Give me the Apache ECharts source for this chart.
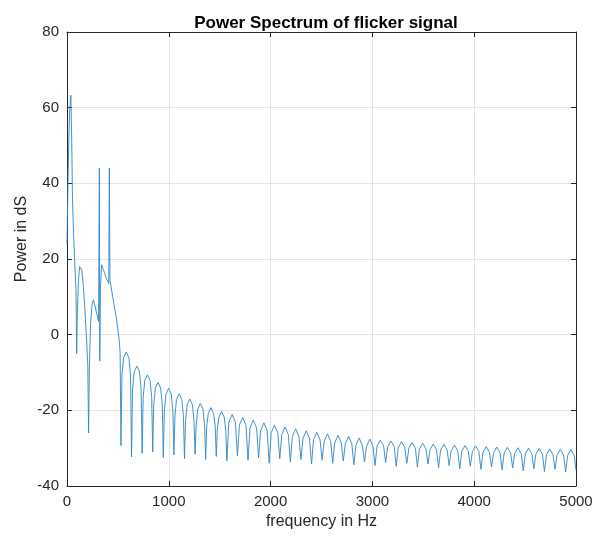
<!DOCTYPE html>
<html>
<head>
<meta charset="utf-8">
<script src="https://cdn.jsdelivr.net/npm/echarts@6/dist/echarts.min.js"></script>
<style>
html,body{margin:0;padding:0;background:#ffffff;}
#chart{width:597px;height:539px;}
</style>
</head>
<body>
<div id="chart"></div>
<script>
// ---- data ----
const chartTitle = 'Power Spectrum of flicker signal';
const xAxisTitle = 'frequency in Hz';
const yAxisTitle = 'Power in dS';
const xTicks = [0, 1000, 2000, 3000, 4000, 5000];
const yTicks = [-40, -20, 0, 20, 40, 60, 80];

// main lobe, first side lobes and the two spikes
const spectrumLow = [
  [0,24],[8,38],[18,52],[28,60],[38,63.3],[46,52],[54,36],[64,27],[76,19],[88,12],
  [95,-5],[102,6],[112,14],[124,18],[134,18.5],[146,17],[160,13],[175,7],[190,0],[204,-8],
  [212,-26],[220,-8],[232,3],[246,8],[260,9.2],[276,7.5],[292,5.5],[310,3.5],[318,44],[322,-7],
  [328,12],[340,18.5],[360,17],[385,15],[410,13.5],[416,44],[422,14.4],[455,9.1],[488,3.8],[515,-2],
  [522,-5]
];
// side lobes 500 - 1600 Hz
const spectrumMid = [
  [530,-29.3],[540,-10.6],[556,-6.1],[582,-4.6],[608,-6.1],[624,-10.6],
  [634,-32.3],[644,-14.3],[660,-9.8],[686,-8.3],[712,-9.8],[728,-14.3],
  [738,-31.4],[748,-16.6],[764,-12.1],[790,-10.6],[816,-12.1],[832,-16.6],
  [842,-31.0],[852,-18.6],[868,-14.1],[894,-12.6],[920,-14.1],[936,-18.6],
  [946,-32.5],[956,-20.2],[972,-15.7],[998,-14.2],[1024,-15.7],[1040,-20.2],
  [1050,-31.8],[1060,-21.6],[1076,-17.1],[1102,-15.6],[1128,-17.1],[1144,-21.6],
  [1154,-32.8],[1164,-23.0],[1180,-18.5],[1206,-17.0],[1232,-18.5],[1248,-23.0],
  [1258,-31.6],[1268,-24.2],[1284,-19.7],[1310,-18.2],[1336,-19.7],[1352,-24.2],
  [1362,-33.0],[1372,-24.3],[1388,-20.8],[1414,-19.3],[1440,-20.8],[1456,-24.3],
  [1466,-32.2],[1476,-25.3],[1492,-21.8],[1518,-20.3],[1544,-21.8],[1560,-25.3]
];
// side lobes 1570 - 5000 Hz
const spectrumHigh = [
  [1570,-33.4],[1590,-23.1],[1622,-21.1],[1654,-23.1],
  [1674,-32.0],[1694,-23.9],[1726,-21.9],[1758,-23.9],
  [1778,-33.2],[1798,-24.6],[1830,-22.6],[1862,-24.6],
  [1882,-32.6],[1902,-25.3],[1934,-23.3],[1966,-25.3],
  [1986,-34.0],[2006,-25.9],[2038,-23.9],[2070,-25.9],
  [2090,-32.8],[2110,-26.4],[2142,-24.4],[2174,-26.4],
  [2194,-33.6],[2214,-26.9],[2246,-24.9],[2278,-26.9],
  [2298,-33.0],[2318,-27.4],[2350,-25.4],[2382,-27.4],
  [2402,-34.2],[2422,-27.8],[2454,-25.8],[2486,-27.8],
  [2506,-33.2],[2526,-28.2],[2558,-26.2],[2590,-28.2],
  [2610,-34.0],[2630,-28.6],[2662,-26.6],[2694,-28.6],
  [2714,-33.4],[2734,-28.9],[2766,-26.9],[2798,-28.9],
  [2818,-34.4],[2838,-29.3],[2870,-27.3],[2902,-29.3],
  [2922,-33.6],[2942,-29.6],[2974,-27.6],[3006,-29.6],
  [3026,-34.6],[3046,-29.4],[3078,-27.9],[3110,-29.4],
  [3130,-33.8],[3150,-29.6],[3182,-28.1],[3214,-29.6],
  [3234,-34.8],[3254,-29.8],[3286,-28.3],[3318,-29.8],
  [3338,-34.0],[3358,-30.0],[3390,-28.5],[3422,-30.0],
  [3442,-35.0],[3462,-30.2],[3494,-28.7],[3526,-30.2],
  [3546,-34.2],[3566,-30.4],[3598,-28.9],[3630,-30.4],
  [3650,-35.2],[3670,-30.5],[3702,-29.0],[3734,-30.5],
  [3754,-34.6],[3774,-30.7],[3806,-29.2],[3838,-30.7],
  [3858,-35.4],[3878,-30.8],[3910,-29.3],[3942,-30.8],
  [3962,-34.8],[3982,-30.9],[4014,-29.4],[4046,-30.9],
  [4066,-35.6],[4086,-31.1],[4118,-29.6],[4150,-31.1],
  [4170,-35.0],[4190,-31.2],[4222,-29.7],[4254,-31.2],
  [4274,-35.8],[4294,-31.3],[4326,-29.8],[4358,-31.3],
  [4378,-35.2],[4398,-31.4],[4430,-29.9],[4462,-31.4],
  [4482,-36.0],[4502,-31.5],[4534,-30.0],[4566,-31.5],
  [4586,-35.4],[4606,-31.6],[4638,-30.1],[4670,-31.6],
  [4690,-36.2],[4710,-31.7],[4742,-30.2],[4774,-31.7],
  [4794,-35.6],[4814,-31.8],[4846,-30.3],[4878,-31.8],
  [4898,-36.3],[4918,-31.9],[4950,-30.4],[4982,-31.9],
  [5000,-35.8]
];

// ---- chart ----
const spectrum = spectrumLow.concat(spectrumMid, spectrumHigh);
const xMin = xTicks[0], xMax = xTicks[xTicks.length - 1], xStep = xTicks[1] - xTicks[0];
const yMin = yTicks[0], yMax = yTicks[yTicks.length - 1], yStep = yTicks[1] - yTicks[0];

const axisColor = '#262626';
const gridColor = '#e4e4e4';
const labelFont = 'Liberation Sans, Arial, Helvetica, sans-serif';

const chart = echarts.init(document.getElementById('chart'), null, {renderer: 'canvas'});

const commonAxis = {
  type: 'value',
  axisLine: {show: true, onZero: false, lineStyle: {color: axisColor, width: 1}},
  axisTick: {show: true, inside: true, length: 5, lineStyle: {color: axisColor, width: 1}}
};
const plainNumber = function (v) { return String(v); };

chart.setOption({
  animation: false,
  backgroundColor: '#ffffff',
  title: {
    text: chartTitle,
    left: 321, top: 10, textAlign: 'center',
    textStyle: {fontFamily: labelFont, fontSize: 17, fontWeight: 'bold', color: '#000000'}
  },
  grid: {left: 67, right: 21, top: 32, bottom: 53, containLabel: false},
  xAxis: [
    Object.assign({}, commonAxis, {
      position: 'bottom', min: xMin, max: xMax, interval: xStep,
      name: xAxisTitle, nameLocation: 'middle', nameGap: 25,
      nameTextStyle: {fontFamily: labelFont, fontSize: 16, color: axisColor},
      axisLabel: {show: true, margin: 8, fontFamily: labelFont, fontSize: 15, color: axisColor, formatter: plainNumber},
      splitLine: {show: true, lineStyle: {color: gridColor, width: 1}}
    }),
    Object.assign({}, commonAxis, {
      position: 'top', min: xMin, max: xMax, interval: xStep,
      axisLabel: {show: false}, splitLine: {show: false}
    })
  ],
  yAxis: [
    Object.assign({}, commonAxis, {
      position: 'left', min: yMin, max: yMax, interval: yStep,
      axisLabel: {show: true, margin: 8, fontFamily: labelFont, fontSize: 15, color: axisColor, formatter: plainNumber},
      splitLine: {show: true, lineStyle: {color: gridColor, width: 1}}
    }),
    Object.assign({}, commonAxis, {
      position: 'right', min: yMin, max: yMax, interval: yStep,
      axisLabel: {show: false}, splitLine: {show: false}
    })
  ],
  graphic: [{
    type: 'text',
    x: 22, y: 239,
    rotation: Math.PI / 2,
    style: {
      text: yAxisTitle,
      fontFamily: labelFont, fontSize: 16, fill: axisColor,
      align: 'center', verticalAlign: 'middle'
    }
  }],
  series: [{
    type: 'line',
    xAxisIndex: 0, yAxisIndex: 0,
    data: spectrum,
    showSymbol: false,
    symbol: 'none',
    smooth: false,
    lineStyle: {color: '#2c86c6', width: 0.9},
    z: 3
  }]
});
</script>
</body>
</html>
